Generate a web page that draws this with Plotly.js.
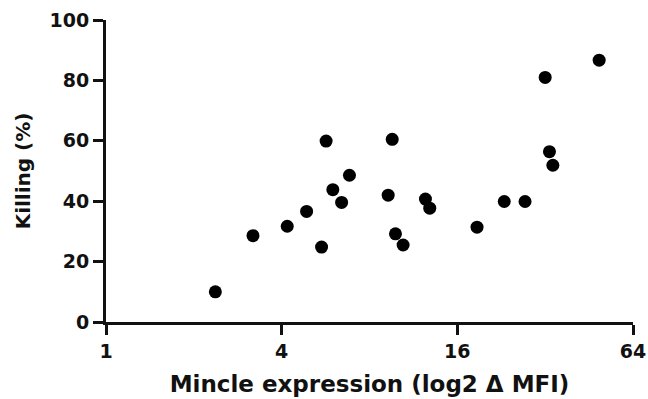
<!DOCTYPE html>
<html>
<head>
<meta charset="utf-8">
<script src="https://cdn.plot.ly/plotly-3.0.1.min.js"></script>
<style>html,body{margin:0;padding:0;background:#fff;}#chart{width:648px;height:399px;}</style>
</head>
<body>
<div id="chart"></div>
<script>
// Mincle expression (ΔMFI, plotted on log2 axis) vs killing (%)
const mincleExpression = [2.37, 3.19, 4.18, 4.87, 5.48, 5.68, 5.99, 6.42, 6.83, 9.27, 9.57, 9.82, 10.43, 12.44, 12.87, 18.69, 23.17, 27.3, 32.0, 33.1, 34.0, 49.0];
const killingPercent = [10.0, 28.6, 31.7, 36.6, 24.8, 59.9, 43.8, 39.6, 48.6, 42.0, 60.5, 29.2, 25.5, 40.7, 37.7, 31.4, 39.9, 39.9, 81.0, 56.4, 51.9, 86.7];
const xTickVals = [1, 4, 16, 64];
const xTickText = ['1', '4', '16', '64'];
const yTickVals = [0, 20, 40, 60, 80, 100];

const FONT = 'DejaVu Sans, Arial, sans-serif';

const trace = {
  x: mincleExpression,
  y: killingPercent,
  type: 'scatter',
  mode: 'markers',
  marker: {color: '#000', size: 13},
  cliponaxis: false,
  hoverinfo: 'x+y'
};

const layout = {
  width: 648,
  height: 399,
  margin: {l: 106, r: 15, t: 20, b: 77},
  paper_bgcolor: '#fff',
  plot_bgcolor: '#fff',
  showlegend: false,
  font: {family: FONT, color: '#111', weight: 'bold'},
  xaxis: {
    type: 'log',
    range: [0, Math.log10(64)],
    tickvals: xTickVals,
    ticktext: xTickText,
    showgrid: false,
    zeroline: false,
    showline: true,
    linecolor: '#111',
    linewidth: 3,
    ticks: 'outside',
    ticklen: 10,
    tickwidth: 3,
    tickcolor: '#111',
    tickfont: {family: FONT, size: 19, color: '#111', weight: 'bold'},
    title: {text: 'Mincle expression (log2 Δ MFI)', font: {family: FONT, size: 23, color: '#111', weight: 'bold'}, standoff: 16}
  },
  yaxis: {
    range: [0, 100],
    tickvals: yTickVals,
    showgrid: false,
    zeroline: false,
    showline: true,
    linecolor: '#111',
    linewidth: 3,
    ticks: 'outside',
    ticklen: 10,
    tickwidth: 3,
    tickcolor: '#111',
    tickfont: {family: FONT, size: 19, color: '#111', weight: 'bold'},
    title: {text: 'Killing (%)', font: {family: FONT, size: 20, color: '#111', weight: 'bold'}, standoff: 14}
  }
};

Plotly.newPlot('chart', [trace], layout, {displayModeBar: false, staticPlot: true});
</script>
</body>
</html>
